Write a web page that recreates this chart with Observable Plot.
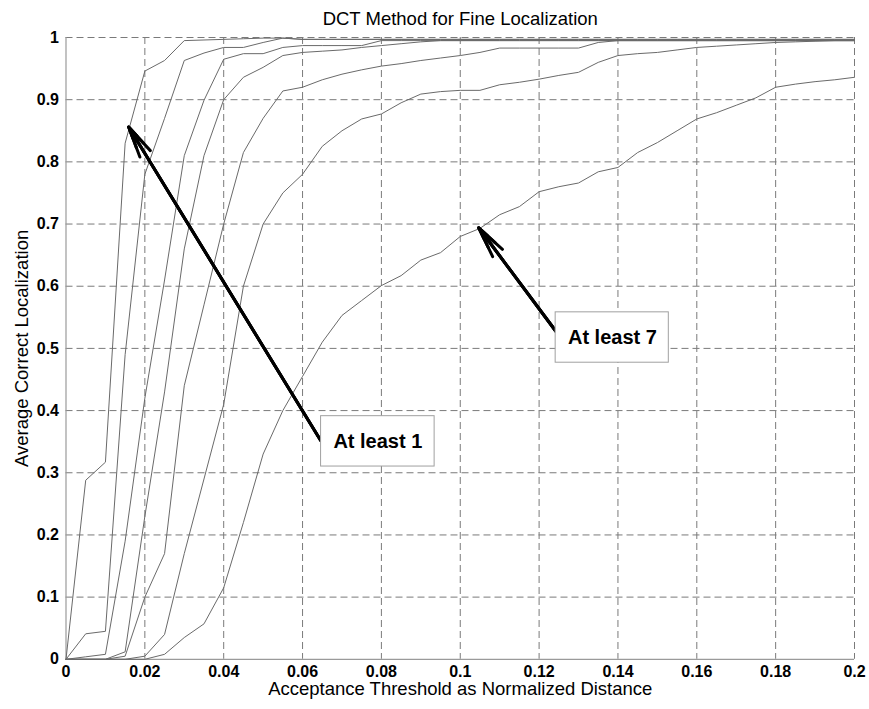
<!DOCTYPE html>
<html>
<head>
<meta charset="utf-8">
<script src="https://cdn.jsdelivr.net/npm/d3@7"></script>
<script src="https://cdn.jsdelivr.net/npm/@observablehq/plot@0.6"></script>
<style>
  html, body { margin: 0; padding: 0; background: white; }
</style>
</head>
<body>
<div id="chart"></div>
<script>
// Acceptance thresholds (normalized distance), sampled every 0.005
const thresholds = d3.range(41).map(i => +(i * 0.005).toFixed(3));

// Average correct localization for "at least k" correct features, k = 1..7
const atLeast1 = [0, 0.288, 0.317, 0.83, 0.946, 0.963, 0.995, 0.996, 0.997, 0.998, 0.999,
  0.999, 0.997, 0.997, 0.997, 0.997, 0.997, 0.997, 0.997, 0.997, 0.997, 0.997, 0.997, 0.997, 0.997, 0.997,
  0.997, 0.997, 0.997, 0.997, 0.997, 0.997, 0.997, 0.997, 0.997, 0.997, 0.997, 0.997, 0.997, 0.997, 0.997];
const atLeast2 = [0, 0.041, 0.045, 0.49, 0.78, 0.87, 0.963, 0.975, 0.984, 0.984, 0.992,
  0.999, 0.997, 0.997, 0.997, 0.997, 0.997, 0.997, 0.997, 0.997, 0.997, 0.997, 0.997, 0.997, 0.997, 0.997,
  0.997, 0.997, 0.997, 0.997, 0.997, 0.997, 0.997, 0.997, 0.997, 0.997, 0.997, 0.997, 0.997, 0.997, 0.997];
const atLeast3 = [0, 0.004, 0.008, 0.19, 0.42, 0.61, 0.81, 0.899, 0.965, 0.974, 0.974,
  0.984, 0.987, 0.987, 0.987, 0.987, 0.995, 0.995, 0.995, 0.995, 0.995, 0.995, 0.995, 0.995, 0.995, 0.995,
  0.995, 0.995, 0.995, 0.995, 0.995, 0.995, 0.995, 0.995, 0.995, 0.995, 0.995, 0.995, 0.995, 0.995, 0.995];
const atLeast4 = [0, 0, 0, 0.012, 0.23, 0.43, 0.66, 0.81, 0.90, 0.936, 0.952,
  0.971, 0.976, 0.978, 0.98, 0.984, 0.987, 0.99, 0.993, 0.995, 0.995, 0.995, 0.995, 0.995, 0.995, 0.995,
  0.995, 0.995, 0.995, 0.995, 0.995, 0.995, 0.995, 0.995, 0.995, 0.995, 0.995, 0.995, 0.995, 0.995, 0.995];
const atLeast5 = [0, 0, 0, 0.005, 0.1, 0.17, 0.44, 0.57, 0.70, 0.815, 0.87,
  0.914, 0.92, 0.932, 0.941, 0.948, 0.954, 0.958, 0.963, 0.967, 0.971, 0.976, 0.983, 0.983, 0.983, 0.983,
  0.983, 0.992, 0.995, 0.995, 0.995, 0.995, 0.995, 0.995, 0.995, 0.995, 0.995, 0.995, 0.995, 0.995, 0.995];
const atLeast6 = [0, 0, 0, 0, 0.005, 0.04, 0.17, 0.29, 0.41, 0.60, 0.70,
  0.75, 0.78, 0.825, 0.85, 0.869, 0.877, 0.895, 0.909, 0.913, 0.915, 0.915, 0.924, 0.928, 0.933, 0.939,
  0.944, 0.96, 0.971, 0.974, 0.976, 0.98, 0.984, 0.986, 0.988, 0.99, 0.992, 0.993, 0.994, 0.995, 0.995];
const atLeast7 = [0, 0, 0, 0, 0, 0.008, 0.035, 0.057, 0.115, 0.22, 0.33,
  0.40, 0.455, 0.51, 0.553, 0.577, 0.601, 0.617, 0.642, 0.654, 0.68, 0.693, 0.715, 0.728, 0.752, 0.76,
  0.766, 0.784, 0.791, 0.815, 0.831, 0.85, 0.869, 0.879, 0.891, 0.903, 0.92, 0.925, 0.929, 0.932, 0.936];

const seriesNames = ["At least 1", "At least 2", "At least 3", "At least 4", "At least 5", "At least 6", "At least 7"];
const seriesValues = [atLeast1, atLeast2, atLeast3, atLeast4, atLeast5, atLeast6, atLeast7];

// Tick values
const xTicks = [0, 0.02, 0.04, 0.06, 0.08, 0.1, 0.12, 0.14, 0.16, 0.18, 0.2];
const yTicks = [0, 0.1, 0.2, 0.3, 0.4, 0.5, 0.6, 0.7, 0.8, 0.9, 1];

// Texts
const title = "DCT Method for Fine Localization";
const xLabel = "Acceptance Threshold as Normalized Distance";
const yLabel = "Average Correct Localization";

// Annotations (data units): label, arrow tail (box side) and arrow tip, box extent
const annoLabels = ["At least 1", "At least 7"];
const annoTextX = [0.0791, 0.1386];
const annoTextY = [0.350, 0.5175];
const annoBoxX1 = [0.0647, 0.1242];
const annoBoxX2 = [0.0935, 0.1529];
const annoBoxY1 = [0.310, 0.477];
const annoBoxY2 = [0.391, 0.558];
const arrowTailX = [0.0646, 0.1242];
const arrowTailY = [0.352, 0.528];
const arrowTipX = [0.0159, 0.1047];
const arrowTipY = [0.856, 0.694];

const table = seriesValues.flatMap((vals, k) =>
  thresholds.map((x, i) => ({x, y: vals[i], s: seriesNames[k]})));

const annos = annoLabels.map((label, i) => ({
  label, tx: annoTextX[i], ty: annoTextY[i],
  bx1: annoBoxX1[i], bx2: annoBoxX2[i], by1: annoBoxY1[i], by2: annoBoxY2[i],
  ax1: arrowTailX[i], ay1: arrowTailY[i], ax2: arrowTipX[i], ay2: arrowTipY[i]
}));

const fmt = d => String(+d.toFixed(2));
const gridStyle = {stroke: "#7a7a7a", strokeOpacity: 1, strokeWidth: 1, strokeDasharray: "7,4"};
const arrowOpts = {x1: "ax1", y1: "ay1", x2: "ax2", y2: "ay2", stroke: "black", strokeWidth: 3};

const chart = Plot.plot({
  width: 869,
  height: 709,
  marginLeft: 65.5,
  marginRight: 15,
  marginTop: 37,
  marginBottom: 50.2,
  style: {fontFamily: "'Liberation Sans', Arial, Helvetica, sans-serif", background: "white", color: "black"},
  x: {domain: [0, 0.2]},
  y: {domain: [0, 1]},
  marks: [
    Plot.gridX(xTicks.filter(d => d > 0), gridStyle),
    Plot.gridY(yTicks.filter(d => d > 0), gridStyle),
    Plot.ruleX([0], {stroke: "#9a9a9a", strokeWidth: 1.2}),
    Plot.ruleY([0], {stroke: "#9a9a9a", strokeWidth: 1.2}),
    Plot.axisX(xTicks, {tickSize: 0, tickPadding: 6, fontSize: 16, fontWeight: "bold", tickFormat: fmt, label: null}),
    Plot.axisY(yTicks, {tickSize: 0, tickPadding: 7, fontSize: 16, fontWeight: "bold", tickFormat: fmt, label: null}),
    Plot.line(table, {x: "x", y: "y", z: "s", stroke: "#6a6a6a", strokeWidth: 1}),
    Plot.arrow(annos, {...arrowOpts, headLength: 16, headAngle: 22}),
    Plot.arrow(annos, {...arrowOpts, headLength: 11, headAngle: 22}),
    Plot.arrow(annos, {...arrowOpts, headLength: 6, headAngle: 22}),
    Plot.rect(annos, {x1: "bx1", x2: "bx2", y1: "by1", y2: "by2", fill: "white", stroke: "#a0a0a0", strokeWidth: 1}),
    Plot.text(annos, {x: "tx", y: "ty", text: "label", fontSize: 20, fontWeight: "bold", fill: "black"}),
    Plot.text([title], {text: d => d, frameAnchor: "top", lineAnchor: "middle", dy: -18, fontSize: 18.5, fill: "black"}),
    Plot.text([xLabel], {text: d => d, frameAnchor: "bottom", lineAnchor: "middle", dy: 30, fontSize: 18.5, fill: "black"}),
    Plot.text([yLabel], {text: d => d, frameAnchor: "left", textAnchor: "middle", lineAnchor: "middle", dx: -44, rotate: -90, fontSize: 18.5, fill: "black"})
  ]
});

document.getElementById("chart").appendChild(chart);
</script>
</body>
</html>
